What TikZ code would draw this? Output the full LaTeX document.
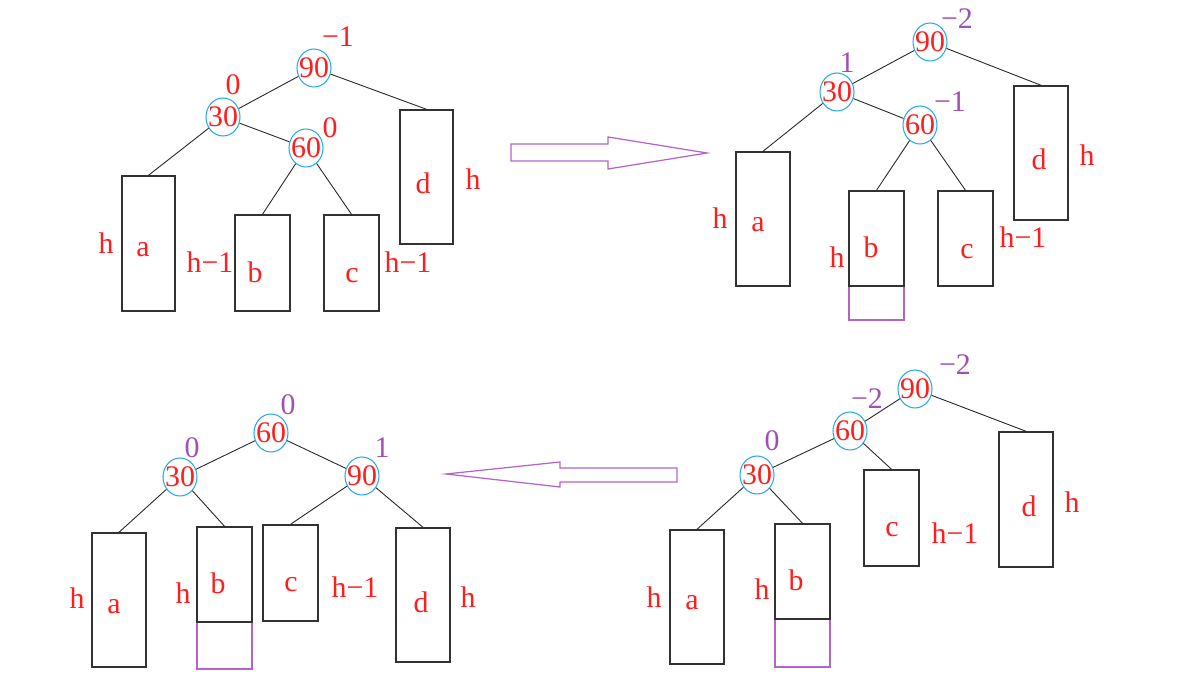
\documentclass[tikz,border=0pt]{standalone}
\usepackage{fontspec}
\setmainfont{Liberation Serif}
\usetikzlibrary{shapes.geometric}
\definecolor{KeyRed}{RGB}{255, 30, 30}
\definecolor{BalPurple}{RGB}{160, 80, 180}
\definecolor{RingBlue}{RGB}{40, 170, 230}
\definecolor{GrowPurple}{RGB}{180, 100, 200}
\definecolor{BoxGray}{RGB}{50, 50, 50}

\begin{document}
\begin{tikzpicture}[x=0.02cm, y=-0.02cm,
    every node/.style={font=\fontsize{17}{20}\selectfont},
    key/.style={draw=RingBlue, line width=0.6pt, ellipse, inner sep=-1.7pt, minimum width=0.68cm, minimum height=0.76cm, text=KeyRed},
    sub/.style 2 args={draw=BoxGray, line width=0.8pt, inner sep=0pt, minimum width=#1*0.02cm, minimum height=#2*0.02cm},
    grow/.style 2 args={draw=GrowPurple, line width=0.7pt, inner sep=0pt, minimum width=#1*0.02cm, minimum height=#2*0.02cm},
    tag/.style={text=KeyRed, inner sep=0pt},
    oldbal/.style={text=KeyRed, inner sep=0pt},
    newbal/.style={text=BalPurple, inner sep=0pt},
    link/.style={draw=black!85, line width=0.5pt},
    bigarrow/.style={draw=GrowPurple, line width=0.7pt, line join=miter}]
    \useasboundingbox[fill=white] (0,0) rectangle (1181,678);

    % Tree 1: before insertion
    \node[key] (p1n90) at (314,68) {90};
    \node[key] (p1n30) at (223,117) {30};
    \node[key] (p1n60) at (306,148) {60};
    \node[oldbal] (p1b90) at (338,37) {−1};
    \node[oldbal] (p1b30) at (233,85) {0};
    \node[oldbal] (p1b60) at (330,128) {0};
    \node[sub={53}{135}] (p1a) at (148.5,243.5) {};
    \node[sub={55}{96}] (p1b) at (262.5,263) {};
    \node[sub={55}{96}] (p1c) at (351.5,263) {};
    \node[sub={53}{134}] (p1d) at (426.5,177) {};
    \node[tag] (p1la) at (143,250) {a};
    \node[tag] (p1lb) at (255,272) {b};
    \node[tag] (p1lc) at (352,276) {c};
    \node[tag] (p1ld) at (423,183) {d};
    \node[tag] (p1ha) at (106,243) {h};
    \node[tag] (p1hb) at (210,262) {h−1};
    \node[tag] (p1hc) at (408,262) {h−1};
    \node[tag] (p1hd) at (473,179) {h};
    \draw[link] (p1n90) -- (p1n30);
    \draw[link] (p1n90) -- (p1d.north);
    \draw[link] (p1n30) -- (p1a.north);
    \draw[link] (p1n30) -- (p1n60);
    \draw[link] (p1n60) -- (p1b.north);
    \draw[link] (p1n60) -- (p1c.north);

    \draw[bigarrow] (511,144) -- (608,144) -- (608,137) -- (707,153)
      -- (608,169) -- (608,161) -- (511,161) -- cycle;

    % Tree 2: b grows by one
    \node[key] (p2n90) at (930,42) {90};
    \node[key] (p2n30) at (837,92) {30};
    \node[key] (p2n60) at (920,125) {60};
    \node[newbal] (p2b90) at (957,19) {−2};
    \node[newbal] (p2b30) at (847,63) {1};
    \node[newbal] (p2b60) at (950,102) {−1};
    \node[grow={55}{34}] (p2g) at (876.5,303) {};
    \node[sub={54}{134}] (p2a) at (763,219) {};
    \node[sub={55}{95}] (p2b) at (876.5,238.5) {};
    \node[sub={55}{95}] (p2c) at (965.5,238.5) {};
    \node[sub={54}{134}] (p2d) at (1041,153) {};
    \node[tag] (p2la) at (758,225) {a};
    \node[tag] (p2lb) at (871,247) {b};
    \node[tag] (p2lc) at (967,252) {c};
    \node[tag] (p2ld) at (1039,159) {d};
    \node[tag] (p2ha) at (720,218) {h};
    \node[tag] (p2hb) at (837,257) {h};
    \node[tag] (p2hc) at (1023,237) {h−1};
    \node[tag] (p2hd) at (1087,155) {h};
    \draw[link] (p2n90) -- (p2n30);
    \draw[link] (p2n90) -- (p2d.north);
    \draw[link] (p2n30) -- (p2a.north);
    \draw[link] (p2n30) -- (p2n60);
    \draw[link] (p2n60) -- (p2b.north);
    \draw[link] (p2n60) -- (p2c.north);

    % Tree 4: after the first rotation
    \node[key] (p4n90) at (915,389) {90};
    \node[key] (p4n60) at (850,431) {60};
    \node[key] (p4n30) at (757,475) {30};
    \node[newbal] (p4b90) at (955,365) {−2};
    \node[newbal] (p4b60) at (867,399) {−2};
    \node[newbal] (p4b30) at (772,441) {0};
    \node[grow={55}{48}] (p4g) at (802.5,643) {};
    \node[sub={54}{134}] (p4a) at (697,597) {};
    \node[sub={55}{95}] (p4b) at (802.5,571.5) {};
    \node[sub={55}{96}] (p4c) at (891.5,518) {};
    \node[sub={54}{135}] (p4d) at (1026,499.5) {};
    \node[tag] (p4la) at (692,603) {a};
    \node[tag] (p4lb) at (796,580) {b};
    \node[tag] (p4lc) at (892,530) {c};
    \node[tag] (p4ld) at (1029,506) {d};
    \node[tag] (p4ha) at (654,597) {h};
    \node[tag] (p4hb) at (762,589) {h};
    \node[tag] (p4hc) at (955,533) {h−1};
    \node[tag] (p4hd) at (1072,502) {h};
    \draw[link] (p4n90) -- (p4n60);
    \draw[link] (p4n90) -- (p4d.north);
    \draw[link] (p4n60) -- (p4n30);
    \draw[link] (p4n60) -- (p4c.north);
    \draw[link] (p4n30) -- (p4a.north);
    \draw[link] (p4n30) -- (p4b.north);

    \draw[bigarrow] (677,468) -- (560,468) -- (560,462) -- (446,474)
      -- (560,487) -- (560,482) -- (677,482) -- cycle;

    % Tree 3: balanced again
    \node[key] (p3n60) at (271,433) {60};
    \node[key] (p3n30) at (180,477) {30};
    \node[key] (p3n90) at (362,476) {90};
    \node[newbal] (p3b60) at (288,405) {0};
    \node[newbal] (p3b30) at (192,448) {0};
    \node[newbal] (p3b90) at (382,448) {1};
    \node[grow={55}{47}] (p3g) at (224.5,645.5) {};
    \node[sub={54}{134}] (p3a) at (119,600) {};
    \node[sub={55}{95}] (p3b) at (224.5,574.5) {};
    \node[sub={55}{96}] (p3c) at (290.5,573) {};
    \node[sub={54}{134}] (p3d) at (423,595) {};
    \node[tag] (p3la) at (114,607) {a};
    \node[tag] (p3lb) at (218,583) {b};
    \node[tag] (p3lc) at (291,585) {c};
    \node[tag] (p3ld) at (421,602) {d};
    \node[tag] (p3ha) at (77,598) {h};
    \node[tag] (p3hb) at (183,593) {h};
    \node[tag] (p3hc) at (355,587) {h−1};
    \node[tag] (p3hd) at (468,597) {h};
    \draw[link] (p3n60) -- (p3n30);
    \draw[link] (p3n60) -- (p3n90);
    \draw[link] (p3n30) -- (p3a.north);
    \draw[link] (p3n30) -- (p3b.north);
    \draw[link] (p3n90) -- (p3c.north);
    \draw[link] (p3n90) -- (p3d.north);
\end{tikzpicture}
\end{document}
